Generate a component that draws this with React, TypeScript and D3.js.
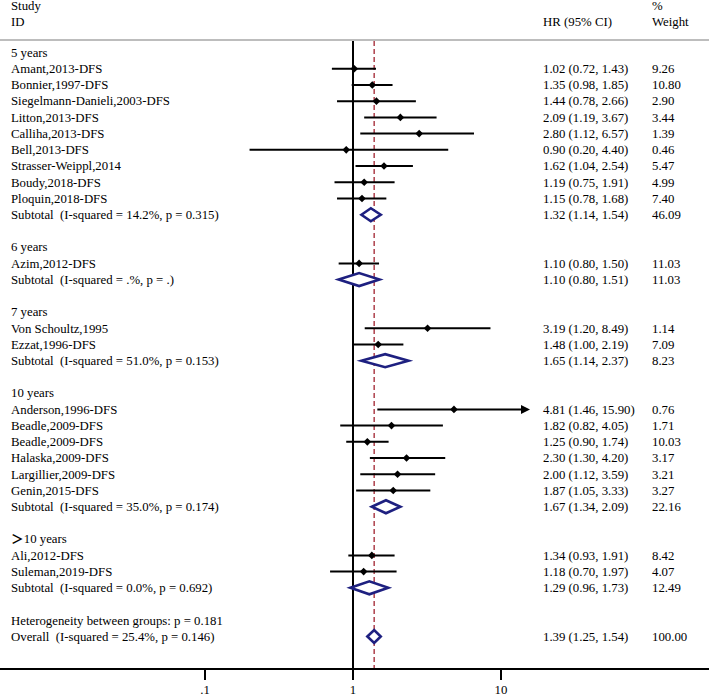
import React from "react";
import * as d3 from "d3";

const groupLabels = ["5 years", "6 years", "7 years", "10 years", "＞10 years"];
const studyNames = [
  "Amant,2013-DFS", "Bonnier,1997-DFS", "Siegelmann-Danieli,2003-DFS", "Litton,2013-DFS",
  "Calliha,2013-DFS", "Bell,2013-DFS", "Strasser-Weippl,2014", "Boudy,2018-DFS", "Ploquin,2018-DFS",
  "Azim,2012-DFS",
  "Von Schoultz,1995", "Ezzat,1996-DFS",
  "Anderson,1996-DFS", "Beadle,2009-DFS", "Beadle,2009-DFS", "Halaska,2009-DFS", "Largillier,2009-DFS", "Genin,2015-DFS",
  "Ali,2012-DFS", "Suleman,2019-DFS",
];
const studyGroup = [0,0,0,0,0,0,0,0,0, 1, 2,2, 3,3,3,3,3,3, 4,4];
const studyHR = [1.02,1.35,1.44,2.09,2.80,0.90,1.62,1.19,1.15, 1.10, 3.19,1.48, 4.81,1.82,1.25,2.30,2.00,1.87, 1.34,1.18];
const studyLo = [0.72,0.98,0.78,1.19,1.12,0.20,1.04,0.75,0.78, 0.80, 1.20,1.00, 1.46,0.82,0.90,1.30,1.12,1.05, 0.93,0.70];
const studyHi = [1.43,1.85,2.66,3.67,6.57,4.40,2.54,1.91,1.68, 1.50, 8.49,2.19, 15.90,4.05,1.74,4.20,3.59,3.33, 1.91,1.97];
const studyWeight = ["9.26","10.80","2.90","3.44","1.39","0.46","5.47","4.99","7.40", "11.03", "1.14","7.09", "0.76","1.71","10.03","3.17","3.21","3.27", "8.42","4.07"];

const subI2 = ["14.2%", ".%", "51.0%", "35.0%", "0.0%"];
const subP = ["0.315", ".", "0.153", "0.174", "0.692"];
const subHR = [1.32, 1.10, 1.65, 1.67, 1.29];
const subLo = [1.14, 0.80, 1.14, 1.34, 0.96];
const subHi = [1.54, 1.51, 2.37, 2.09, 1.73];
const subWeight = ["46.09", "11.03", "8.23", "22.16", "12.49"];

const heterogeneityP = "0.181";
const overallI2 = "25.4%";
const overallP = "0.146";
const overallHR = 1.39;
const overallLo = 1.25;
const overallHi = 1.54;
const overallWeight = "100.00";

const axisTicks = [0.1, 1, 10];
const axisTickLabels = [".1", "1", "10"];

const fmt = (v: number) => v.toFixed(2);
const ciText = (h: number, l: number, u: number) => `${fmt(h)} (${fmt(l)}, ${fmt(u)})`;

type Row =
  | { kind: "group"; label: string }
  | { kind: "study"; i: number }
  | { kind: "sub"; g: number }
  | { kind: "blank" }
  | { kind: "het" }
  | { kind: "overall" };

export default function App() {
  const W = 709, H = 697;
  const x = d3.scaleLog().domain([0.1, 10]).range([205, 501]);
  const xMaxPix = 530;
  const rows: Row[] = [];
  groupLabels.forEach((gl, g) => {
    rows.push({ kind: "group", label: gl });
    studyNames.forEach((_, i) => { if (studyGroup[i] === g) rows.push({ kind: "study", i }); });
    rows.push({ kind: "sub", g });
    rows.push({ kind: "blank" });
  });
  rows.push({ kind: "het" });
  rows.push({ kind: "overall" });

  const y = d3.scaleLinear().domain([0, rows.length - 1]).range([52.5, 636.5]);
  const topY = 40;
  const axisY = 669;
  const font = "'Liberation Serif', 'Times New Roman', serif";
  const navy = "#1e2080";
  const textX = 11, hrX = 543, wX = 652;
  const fs = 12.8;

  const diamond = (h: number, l: number, u: number, cy: number, key: string) => {
    const pts = [[x(l), cy], [x(h), cy - 6.5], [x(u), cy], [x(h), cy + 6.5]];
    return <polygon key={key} points={pts.map(p => p.join(",")).join(" ")} fill="white" stroke={navy} strokeWidth={2.6} strokeLinejoin="miter" />;
  };

  return (
    <svg width={W} height={H} style={{ position: "absolute", left: 0, top: 0, background: "white" }} fontFamily={font} fontSize={fs}>
      <rect x={0} y={0} width={W} height={H} fill="white" />
      {/* header */}
      <text x={textX} y={10}>Study</text>
      <text x={textX} y={26}>ID</text>
      <text x={hrX} y={26}>HR (95% CI)</text>
      <text x={wX} y={10}>%</text>
      <text x={wX} y={26}>Weight</text>
      <line x1={0} x2={W} y1={topY} y2={topY} stroke="#bdbdbd" strokeWidth={2} />

      {/* reference lines */}
      <line x1={x(1)} x2={x(1)} y1={topY + 1} y2={axisY} stroke="black" strokeWidth={2} />
      <line x1={x(overallHR)} x2={x(overallHR)} y1={topY + 1} y2={axisY} stroke="#a8323e" strokeWidth={1.4} strokeDasharray="5,3" />

      {rows.map((r, k) => {
        const cy = y(k);
        const ty = cy + 4.3;
        if (r.kind === "group") {
          if (r.label.startsWith("＞")) {
            return (
              <text key={k} x={textX} y={ty}>
                <tspan fontFamily="'Noto Sans CJK SC'" fontWeight="bold">＞</tspan>
                <tspan>{r.label.slice(1)}</tspan>
              </text>
            );
          }
          return <text key={k} x={textX} y={ty}>{r.label}</text>;
        }
        if (r.kind === "study") {
          const i = r.i;
          const x0 = x(studyLo[i]);
          const clipped = x(studyHi[i]) > xMaxPix;
          const x1 = clipped ? xMaxPix - 8 : x(studyHi[i]);
          const px = x(studyHR[i]);
          return (
            <g key={k}>
              <text x={textX} y={ty}>{studyNames[i]}</text>
              <line x1={x0} x2={x1} y1={cy} y2={cy} stroke="black" strokeWidth={2} />
              {clipped && <polygon points={`${xMaxPix - 9},${cy - 4.5} ${xMaxPix},${cy} ${xMaxPix - 9},${cy + 4.5}`} fill="black" />}
              <polygon points={`${px - 3.8},${cy} ${px},${cy - 3.8} ${px + 3.8},${cy} ${px},${cy + 3.8}`} fill="black" />
              <text x={hrX} y={ty}>{ciText(studyHR[i], studyLo[i], studyHi[i])}</text>
              <text x={wX} y={ty}>{studyWeight[i]}</text>
            </g>
          );
        }
        if (r.kind === "sub") {
          const g = r.g;
          return (
            <g key={k}>
              <text x={textX} y={ty} style={{ whiteSpace: "pre" }}>{`Subtotal  (I-squared = ${subI2[g]}, p = ${subP[g]})`}</text>
              {diamond(subHR[g], subLo[g], subHi[g], cy, "d" + k)}
              <text x={hrX} y={ty}>{ciText(subHR[g], subLo[g], subHi[g])}</text>
              <text x={wX} y={ty}>{subWeight[g]}</text>
            </g>
          );
        }
        if (r.kind === "het") {
          return <text key={k} x={textX} y={ty}>{`Heterogeneity between groups: p = ${heterogeneityP}`}</text>;
        }
        if (r.kind === "overall") {
          return (
            <g key={k}>
              <text x={textX} y={ty} style={{ whiteSpace: "pre" }}>{`Overall  (I-squared = ${overallI2}, p = ${overallP})`}</text>
              {diamond(overallHR, overallLo, overallHi, cy, "o")}
              <text x={hrX} y={ty}>{ciText(overallHR, overallLo, overallHi)}</text>
              <text x={wX} y={ty}>{overallWeight}</text>
            </g>
          );
        }
        return null;
      })}

      {/* axis */}
      <line x1={0} x2={W} y1={axisY} y2={axisY} stroke="black" strokeWidth={2} />
      {axisTicks.map((t, i) => (
        <g key={t}>
          <line x1={x(t)} x2={x(t)} y1={axisY} y2={axisY + 11} stroke="black" strokeWidth={2} />
          <text x={x(t)} y={694} textAnchor="middle">{axisTickLabels[i]}</text>
        </g>
      ))}
    </svg>
  );
}
